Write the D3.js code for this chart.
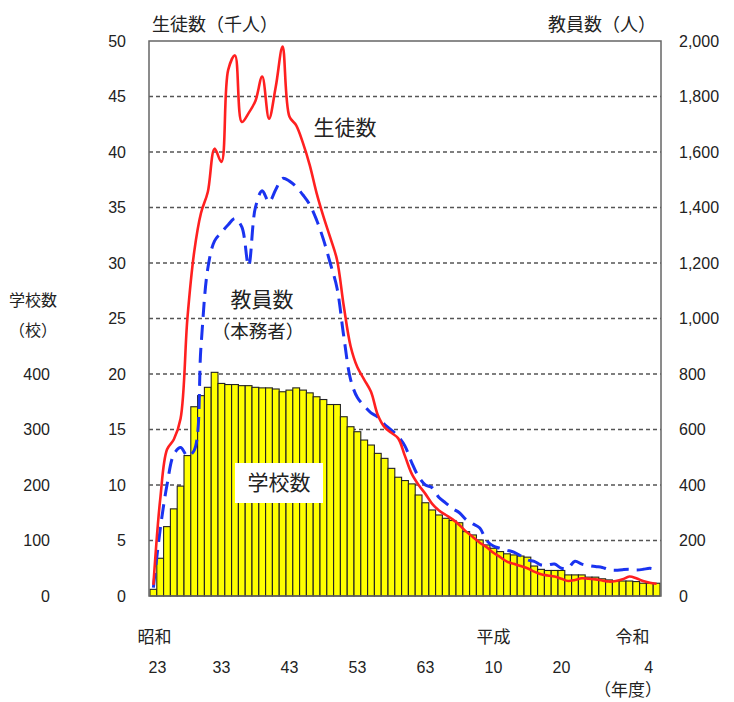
<!DOCTYPE html>
<html><head><meta charset="utf-8">
<script src="https://cdn.jsdelivr.net/npm/d3@7"></script>
<style>
html,body{margin:0;padding:0;background:#fff;}
svg text{font-family:"Noto Sans CJK JP","Liberation Sans",sans-serif;fill:#222;}
.num{font-family:"Liberation Sans",Arial,sans-serif;}
</style></head>
<body><svg id="c" width="734" height="702"></svg>
<script>
const years = [1948,1949,1950,1951,1952,1953,1954,1955,1956,1957,1958,1959,1960,1961,1962,1963,1964,1965,1966,1967,1968,1969,1970,1971,1972,1973,1974,1975,1976,1977,1978,1979,1980,1981,1982,1983,1984,1985,1986,1987,1988,1989,1990,1991,1992,1993,1994,1995,1996,1997,1998,1999,2000,2001,2002,2003,2004,2005,2006,2007,2008,2009,2010,2011,2012,2013,2014,2015,2016,2017,2018,2019,2020,2021,2022];
// 学校数 (校)
const schools = [12,68,125,157,198,253,341,361,376,403,383,381,381,379,379,376,375,375,373,368,371,375,371,366,359,354,345,345,323,305,296,281,272,257,248,230,214,208,202,182,168,155,146,140,136,132,116,110,101,92,86,80,76,74,72,70,54,48,46,46,46,38,38,38,34,34,31,29,27,27,27,26,23,23,23];
// 生徒数 (千人)
const students = [1.0,8.7,13.2,14.1,16.0,25.0,31.0,34.5,36.4,40.3,39.1,47.4,48.7,42.7,43.5,44.6,46.8,43.0,45.9,49.5,43.2,42.4,40.8,38.8,36.3,34.2,32.3,30.3,26.1,22.5,20.6,19.5,18.4,16.3,15.2,14.7,14.2,12.6,11.0,10.0,9.2,8.3,7.7,7.3,6.9,6.4,5.8,5.3,4.8,4.4,3.9,3.5,3.1,2.9,2.7,2.5,2.2,1.95,1.85,1.75,1.55,1.35,1.45,1.6,1.55,1.5,1.4,1.3,1.35,1.5,1.75,1.6,1.35,1.2,1.1];
// 教員数(本務者) (人)
const teachers = [30,240,400,510,535,505,525,900,1180,1280,1310,1338,1360,1330,1190,1400,1460,1420,1465,1505,1495,1475,1445,1410,1355,1285,1200,1110,935,780,715,685,660,645,618,598,575,540,480,430,400,390,355,335,315,300,275,260,245,200,180,172,165,158,145,130,125,112,112,115,100,102,125,115,110,106,103,95,93,95,96,94,96,100,95];

const leftTicks = [0,5,10,15,20,25,30,35,40,45,50];
const rightTicks = [0,200,400,600,800,1000,1200,1400,1600,1800,2000];
const schoolTicks = [0,100,200,300,400];
const xTickYears = [1948,1958,1968,1978,1988,1998,2008,2022];
const xTickLabels = ["23","33","43","53","63","10","20","4"];
const eraLabels = [{year:1948,text:"昭和"},{year:1998,text:"平成"},{year:2022,text:"令和"}];

const L=149, R=661, T=41, B=596;
const svg = d3.select("#c");
const x = d3.scaleBand().domain(years).range([150,660]).paddingInner(0).paddingOuter(0);
const yS = d3.scaleLinear().domain([0,50]).range([B,T]);
const ySch = d3.scaleLinear().domain([0,1000]).range([B,T]);
const yT = d3.scaleLinear().domain([0,2000]).range([B,T]);
const cx = d => x(d) + x.bandwidth()/2;

// grid
svg.append("g").selectAll("line").data(leftTicks.filter(v=>v>0&&v<50)).join("line")
  .attr("x1",L).attr("x2",R).attr("y1",d=>yS(d)).attr("y2",d=>yS(d))
  .attr("stroke","#555").attr("stroke-width",1.6).attr("stroke-dasharray","4,3");

// bars
svg.append("g").selectAll("rect").data(years).join("rect")
  .attr("x",d=>x(d)).attr("width",x.bandwidth())
  .attr("y",(d,i)=>ySch(schools[i])).attr("height",(d,i)=>B-ySch(schools[i]))
  .attr("fill","#ffff00").attr("stroke","#222").attr("stroke-width",1.1);

// frame
svg.append("rect").attr("x",L).attr("y",T).attr("width",R-L).attr("height",B-T)
  .attr("fill","none").attr("stroke","#666").attr("stroke-width",1.5);

// teacher line
const lineT = d3.line().x(d=>cx(d)).y((d,i)=>yT(teachers[i])).curve(d3.curveCatmullRom.alpha(0.5));
svg.append("path").attr("d",lineT(years)).attr("fill","none")
  .attr("stroke","#1a33f0").attr("stroke-width",3).attr("stroke-dasharray","15,8");

// student line
const lineS = d3.line().x(d=>cx(d)).y((d,i)=>yS(students[i])).curve(d3.curveCatmullRom.alpha(0.5));
svg.append("path").attr("d",lineS(years)).attr("fill","none")
  .attr("stroke","#ff2020").attr("stroke-width",2.6);

// left axis (students)
svg.append("g").selectAll("text").data(leftTicks).join("text").attr("class","num")
  .attr("x",126).attr("y",d=>yS(d)).attr("dy","0.35em").attr("text-anchor","end")
  .attr("font-size",16).text(d=>d);
// right axis (teachers)
svg.append("g").selectAll("text").data(rightTicks).join("text").attr("class","num")
  .attr("x",679).attr("y",d=>yT(d)).attr("dy","0.35em").attr("text-anchor","start")
  .attr("font-size",16).text(d=>d3.format(",")(d));
// school axis
svg.append("g").selectAll("text").data(schoolTicks).join("text").attr("class","num")
  .attr("x",50).attr("y",d=>ySch(d)).attr("dy","0.35em").attr("text-anchor","end")
  .attr("font-size",16).text(d=>d);

// x labels
svg.append("g").selectAll("text").data(xTickYears).join("text").attr("class","num")
  .attr("x",(d,i)=> i===0 ? cx(d)+4 : (i===xTickYears.length-1 ? cx(d)-8 : cx(d)))
  .attr("y",667).attr("dy","0.35em").attr("text-anchor","middle")
  .attr("font-size",16).text((d,i)=>xTickLabels[i]);
svg.append("g").selectAll("text").data(eraLabels).join("text")
  .attr("x",(d,i)=> i===0 ? cx(d.year)+1 : (i===2 ? cx(d.year)-24 : cx(d.year)))
  .attr("y",637).attr("dy","0.35em").attr("text-anchor","middle")
  .attr("font-size",17).text(d=>d.text);
svg.append("text").attr("x",628).attr("y",690).attr("dy","0.35em").attr("text-anchor","middle")
  .attr("font-size",17).text("（年度）");

// axis titles
svg.append("text").attr("x",152).attr("y",25).attr("dy","0.35em").attr("font-size",18).text("生徒数（千人）");
svg.append("text").attr("x",656).attr("y",25).attr("dy","0.35em").attr("text-anchor","end").attr("font-size",18).text("教員数（人）");
svg.append("text").attr("x",33).attr("y",300).attr("dy","0.35em").attr("text-anchor","middle").attr("font-size",16).text("学校数");
svg.append("text").attr("x",33).attr("y",330).attr("dy","0.35em").attr("text-anchor","middle").attr("font-size",16).text("（校）");

// annotations
svg.append("text").attr("x",345).attr("y",128).attr("dy","0.35em").attr("text-anchor","middle").attr("font-size",21).text("生徒数");
svg.append("text").attr("x",262).attr("y",300).attr("dy","0.35em").attr("text-anchor","middle").attr("font-size",21).text("教員数");
svg.append("text").attr("x",258).attr("y",332).attr("dy","0.35em").attr("text-anchor","middle").attr("font-size",18.5).text("（本務者）");
svg.append("rect").attr("x",235).attr("y",463).attr("width",88).attr("height",40).attr("fill","#fff");
svg.append("text").attr("x",279).attr("y",483).attr("dy","0.35em").attr("text-anchor","middle").attr("font-size",21).text("学校数");
</script></body></html>
